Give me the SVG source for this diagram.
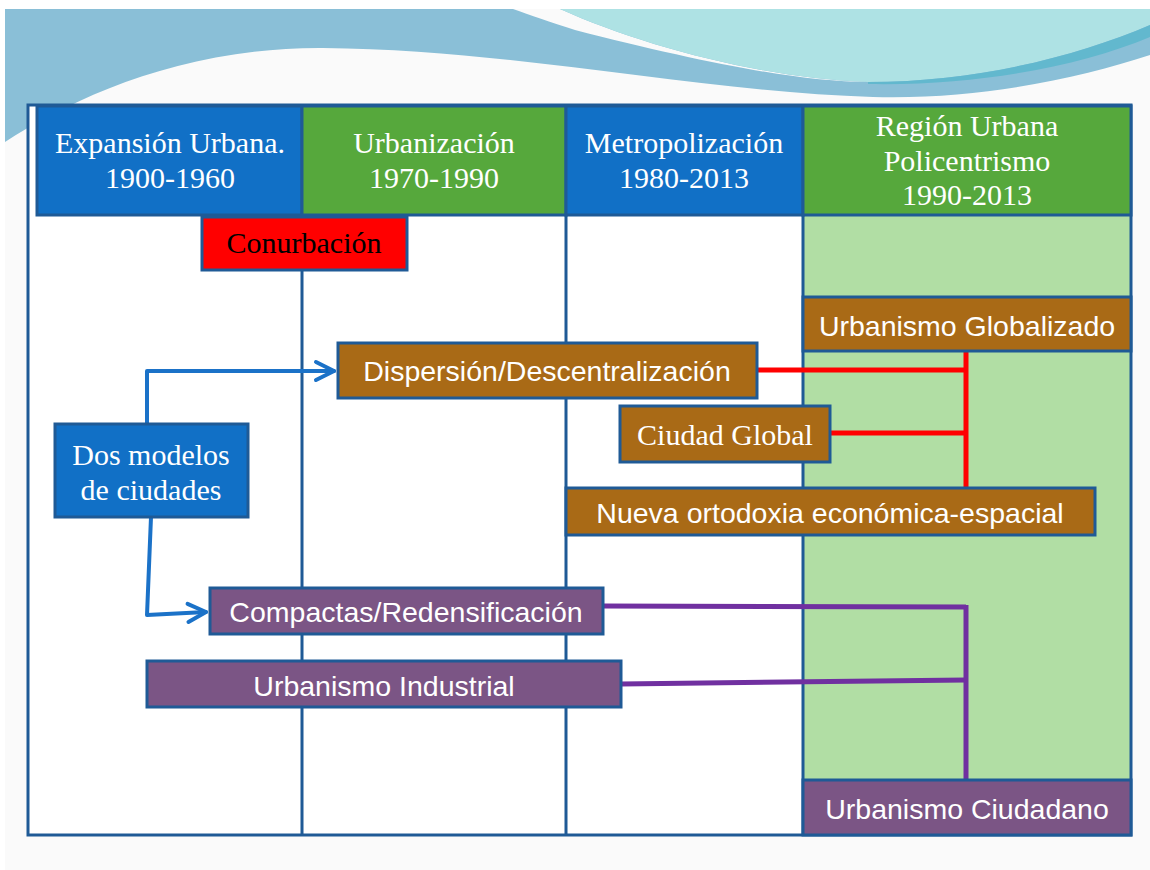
<svg xmlns="http://www.w3.org/2000/svg" width="1150" height="870" viewBox="0 0 1150 870">
  <defs>
    <style>
      .grid { stroke: #1F5A96; stroke-width: 3; fill: none; }
      .box { stroke: #1F5A96; stroke-width: 3; }
      .blue { fill: #1170C6; }
      .green { fill: #56A83C; }
      .red { fill: #FF0000; }
      .brown { fill: #A96A16; }
      .purple { fill: #7B5585; }
      .serif { font-family: "Liberation Serif", "DejaVu Serif", serif; font-size: 30px; text-anchor: middle; fill: #FFFFFF; }
      .sans { font-family: "Liberation Sans", Arial, sans-serif; font-size: 28.5px; text-anchor: middle; fill: #FFFFFF; }
      .arrow { stroke: #1B72C8; stroke-width: 4; fill: none; stroke-linejoin: round; stroke-linecap: round; }
      .redline { stroke: #FF0000; stroke-width: 5; fill: none; }
      .purpleline { stroke: #7030A0; stroke-width: 5; fill: none; }
    </style>
    <marker id="chevron" markerWidth="12" markerHeight="12" refX="10" refY="6" orient="auto" markerUnits="userSpaceOnUse" overflow="visible">
      <path d="M-8,-3 L10,6 L-8,15" fill="none" stroke="#1B72C8" stroke-width="4" stroke-linecap="round" stroke-linejoin="round"/>
    </marker>
  </defs>

  <!-- page -->
  <rect x="0" y="0" width="1150" height="870" fill="#FFFFFF"/>
  <rect x="5" y="9" width="1145" height="861" fill="#FAFAFA"/>

  <!-- decorative header waves -->
  <path d="M5,9 H1150 V55 C1080,78 980,100 873,97 C700,92 520,50 323,48 C180,47 70,100 5,142 Z" fill="#8ABFD7"/>
  <path d="M513,9 H560 C640,45 760,78 868,82 C800,82 700,62 575,30 C550,22 530,15 513,9 Z" fill="#FAFAFA"/>
  <path d="M560,9 H1150 V25 C1080,55 980,82 868,82 C760,78 640,45 560,9 Z" fill="#AEE2E4"/>
  <path d="M868,82 C980,82 1080,55 1150,25 V37 C1080,66 980,86 868,84 Z" fill="#62B8CE"/>

  <!-- table body -->
  <rect x="28" y="105" width="1103" height="730" fill="#FFFFFF"/>
  <rect x="803" y="215" width="328" height="565" fill="#B1DEA4"/>
  <g id="grid">
    <rect class="grid" x="28" y="105" width="1103" height="730"/>
    <line class="grid" x1="302" y1="215" x2="302" y2="835"/>
    <line class="grid" x1="566" y1="215" x2="566" y2="835"/>
    <line class="grid" x1="803" y1="215" x2="803" y2="835"/>
  </g>

  <!-- period headers -->
  <g id="header-expansion">
    <rect class="box blue" x="37" y="106" width="265" height="109"/>
    <text class="serif" x="170" y="153">Expansión Urbana.</text>
    <text class="serif" x="170" y="188">1900-1960</text>
  </g>
  <g id="header-urbanizacion">
    <rect class="box green" x="302" y="106" width="264" height="109"/>
    <text class="serif" x="434" y="153">Urbanización</text>
    <text class="serif" x="434" y="188">1970-1990</text>
  </g>
  <g id="header-metropolizacion">
    <rect class="box blue" x="566" y="106" width="237" height="109"/>
    <text class="serif" x="684" y="153">Metropolización</text>
    <text class="serif" x="684" y="188">1980-2013</text>
  </g>
  <g id="header-region">
    <rect class="box green" x="803" y="106" width="328" height="109"/>
    <text class="serif" x="967" y="136">Región Urbana</text>
    <text class="serif" x="967" y="171">Policentrismo</text>
    <text class="serif" x="967" y="205">1990-2013</text>
  </g>

  <!-- connectors -->
  <g id="connectors">
    <path class="arrow" d="M147,424 V371 H334" marker-end="url(#chevron)"/>
    <path class="arrow" d="M151,517 L147,615 L206,612" marker-end="url(#chevron)"/>
    <path class="redline" d="M757,370 H966"/>
    <path class="redline" d="M830,433 H966"/>
    <path class="redline" d="M966,351 V488"/>
    <path class="purpleline" d="M603,606 L966,607"/>
    <path class="purpleline" d="M621,684 L966,680"/>
    <path class="purpleline" d="M966,605 V780"/>
  </g>

  <!-- nodes -->
  <g id="conurbacion">
    <rect class="box red" x="202" y="217" width="205" height="53"/>
    <text class="serif" x="304" y="253" style="fill:#000000">Conurbación</text>
  </g>
  <g id="urbanismo-globalizado">
    <rect class="box brown" x="803" y="297" width="328" height="54"/>
    <text class="sans" x="967" y="336">Urbanismo Globalizado</text>
  </g>
  <g id="dispersion">
    <rect class="box brown" x="338" y="343" width="419" height="55"/>
    <text class="sans" x="547" y="381">Dispersión/Descentralización</text>
  </g>
  <g id="ciudad-global">
    <rect class="box brown" x="620" y="406" width="210" height="56"/>
    <text class="serif" x="725" y="445">Ciudad Global</text>
  </g>
  <g id="nueva-ortodoxia">
    <rect class="box brown" x="566" y="488" width="529" height="47"/>
    <text class="sans" x="830" y="523">Nueva ortodoxia económica-espacial</text>
  </g>
  <g id="dos-modelos">
    <rect class="box blue" x="55" y="424" width="193" height="93"/>
    <text class="serif" x="151" y="465">Dos modelos</text>
    <text class="serif" x="151" y="500">de ciudades</text>
  </g>
  <g id="compactas">
    <rect class="box purple" x="210" y="588" width="393" height="46"/>
    <text class="sans" x="406" y="622">Compactas/Redensificación</text>
  </g>
  <g id="urbanismo-industrial">
    <rect class="box purple" x="147" y="661" width="474" height="46"/>
    <text class="sans" x="384" y="696">Urbanismo Industrial</text>
  </g>
  <g id="urbanismo-ciudadano">
    <rect class="box purple" x="803" y="780" width="328" height="55"/>
    <text class="sans" x="967" y="819">Urbanismo Ciudadano</text>
  </g>
</svg>
